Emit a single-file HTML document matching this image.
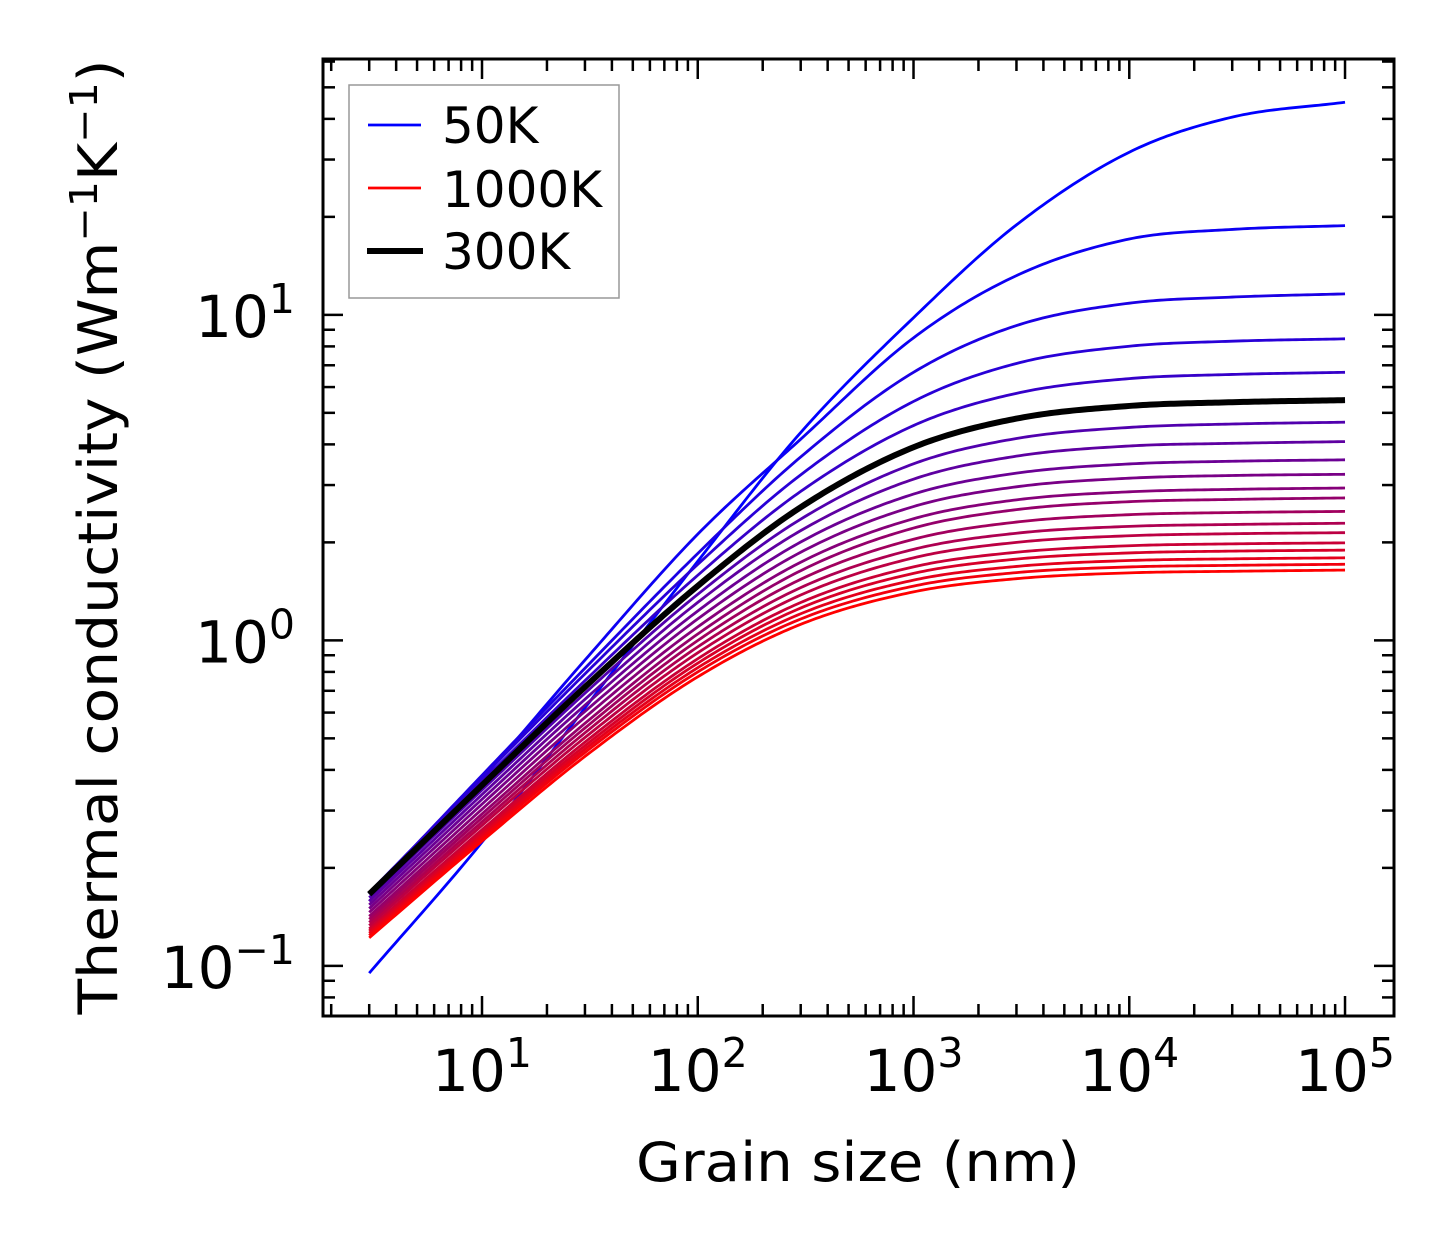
<!DOCTYPE html>
<html><head><meta charset="utf-8"><style>
html,body{margin:0;padding:0;background:#fff;}
svg{display:block;font-family:"DejaVu Sans","Liberation Sans",sans-serif;}
</style></head><body>
<svg id="chart" xmlns="http://www.w3.org/2000/svg" width="1454" height="1254" viewBox="0 0 1454 1254">
<rect width="1454" height="1254" fill="#fff"/>
<g id="series"></g>
<g id="axes"></g>
<text x="858" y="1181" font-size="54" text-anchor="middle" textLength="444" lengthAdjust="spacingAndGlyphs">Grain size (nm)</text>
<text transform="translate(117,537) rotate(-90)" font-size="54" text-anchor="middle" textLength="955" lengthAdjust="spacingAndGlyphs">Thermal conductivity (Wm<tspan dy="-20" font-size="38">−1</tspan><tspan dy="20">K</tspan><tspan dy="-20" font-size="38">−1</tspan><tspan dy="20">)</tspan></text>
<g>
<rect x="349" y="85" width="270" height="213" fill="#fff" stroke="#999" stroke-width="1.5"/>
<line x1="368" y1="125" x2="421" y2="125" stroke="#0000ff" stroke-width="2.8"/>
<text x="442" y="143" font-size="50">50K</text>
<line x1="368" y1="188" x2="421" y2="188" stroke="#ff0000" stroke-width="2.8"/>
<text x="442" y="207" font-size="50">1000K</text>
<line x1="367" y1="251" x2="423" y2="251" stroke="#000" stroke-width="6"/>
<text x="442" y="269" font-size="50">300K</text>
</g>
</svg>
<script>
// grain sizes (nm)
const grainSizes = [3, 10, 30, 100, 300, 1000, 3000, 10000, 30000, 100000];
const temperatures = [50,100,150,200,250,300,350,400,450,500,550,600,650,700,750,800,850,900,950,1000];
const k50 = [0.095,0.24,0.62,1.75,4.35,9.8,18.9,31.6,40.5,45.0];
const k100 = [0.158,0.375,0.87,2.12,4.15,8.5,13.2,17.1,18.3,18.8];
const k150 = [0.166,0.385,0.821,1.849,3.66,6.66,9.27,10.86,11.34,11.6];
const k200 = [0.168,0.379,0.789,1.712,3.225,5.42,7.09,8.01,8.30,8.44];
const k250 = [0.167,0.369,0.752,1.585,2.868,4.57,5.74,6.37,6.56,6.66];
const k300 = [0.166,0.359,0.719,1.47,2.564,3.92,4.80,5.25,5.39,5.47];
const k350 = [0.162,0.347,0.688,1.385,2.357,3.486,4.17,4.51,4.62,4.68];
const k400 = [0.158,0.336,0.659,1.308,2.173,3.128,3.68,3.955,4.03,4.08];
const k450 = [0.154,0.325,0.632,1.231,2.005,2.814,3.263,3.483,3.55,3.586];
const k500 = [0.150,0.314,0.605,1.164,1.865,2.577,2.963,3.149,3.21,3.237];
const k550 = [0.146,0.303,0.580,1.100,1.738,2.364,2.702,2.860,2.91,2.938];
const k600 = [0.142,0.293,0.556,1.046,1.637,2.213,2.521,2.667,2.71,2.739];
const k650 = [0.139,0.285,0.538,0.999,1.54,2.045,2.309,2.433,2.47,2.49];
const k700 = [0.136,0.277,0.520,0.955,1.452,1.904,2.134,2.24,2.27,2.29];
const k750 = [0.133,0.270,0.503,0.9155,1.378,1.7925,2.0,2.096,2.126,2.142];
const k800 = [0.130,0.262,0.487,0.878,1.307,1.682,1.865,1.953,1.979,1.993];
const k850 = [0.128,0.257,0.4746,0.851,1.257,1.606,1.777,1.856,1.88,1.893];
const k900 = [0.126,0.252,0.4633,0.824,1.207,1.531,1.687,1.759,1.78,1.793];
const k950 = [0.124,0.247,0.4525,0.7997,1.163,1.468,1.615,1.681,1.70,1.713];
const k1000 = [0.122,0.2417,0.440,0.7727,1.12,1.409,1.547,1.612,1.63,1.644];
const seriesK = [k50,k100,k150,k200,k250,k300,k350,k400,k450,k500,k550,k600,k650,k700,k750,k800,k850,k900,k950,k1000];
const xTickExps = [1,2,3,4,5];
const yTickExps = [-1,0,1];

const NS = "http://www.w3.org/2000/svg";
const PL = 323, PR = 1394, PT = 59, PB = 1016;
const XMIN = 0.263, XMAX = 5.227, YMIN = -1.154, YMAX = 1.786;
function xs(v){ return PL + (Math.log10(v) - XMIN) / (XMAX - XMIN) * (PR - PL); }
function ys(v){ return PB - (Math.log10(v) - YMIN) / (YMAX - YMIN) * (PB - PT); }

function smoothPath(xsArr, ysArr){
  const n = xsArr.length, X = xsArr.map(Math.log10), Y = ysArr.map(Math.log10);
  const d = [], m = [];
  for (let i=0;i<n-1;i++) d.push((Y[i+1]-Y[i])/(X[i+1]-X[i]));
  m[0]=d[0]; m[n-1]=d[n-2];
  for (let i=1;i<n-1;i++){ m[i] = (d[i-1]*d[i]<=0)?0:(d[i-1]+d[i])/2; }
  for (let i=0;i<n-1;i++){ if (d[i]===0){m[i]=0;m[i+1]=0;continue;} const a=m[i]/d[i], b=m[i+1]/d[i], s=a*a+b*b; if(s>9){const t=3/Math.sqrt(s); m[i]=t*a*d[i]; m[i+1]=t*b*d[i];} }
  let p = "";
  for (let i=0;i<n-1;i++){
    const h = X[i+1]-X[i];
    for (let j=0;j<=30;j++){
      if (i>0 && j===0) continue;
      const t=j/30, t2=t*t, t3=t2*t;
      const y = (2*t3-3*t2+1)*Y[i] + (t3-2*t2+t)*h*m[i] + (-2*t3+3*t2)*Y[i+1] + (t3-t2)*h*m[i+1];
      const x = X[i]+t*h;
      const px = xs(Math.pow(10,x)), py = ys(Math.pow(10,y));
      p += (p?"L":"M") + px.toFixed(2) + "," + py.toFixed(2);
    }
  }
  return p;
}

const gS = document.getElementById("series");
const N = seriesK.length;
seriesK.forEach((ks, i) => {
  const t = i/(N-1);
  const el = document.createElementNS(NS, "path");
  el.setAttribute("d", smoothPath(grainSizes, ks));
  el.setAttribute("fill", "none");
  el.setAttribute("stroke", "rgb(" + Math.round(255*t) + ",0," + Math.round(255*(1-t)) + ")");
  el.setAttribute("stroke-width", "2.8");
  
  
  gS.appendChild(el);
});
const idx300 = temperatures.indexOf(300);
const bl = document.createElementNS(NS, "path");
bl.setAttribute("d", smoothPath(grainSizes, seriesK[idx300]));
bl.setAttribute("fill", "none");
bl.setAttribute("stroke", "#000");
bl.setAttribute("stroke-width", "6");


gS.appendChild(bl);

const gA = document.getElementById("axes");
function addLine(x1,y1,x2,y2,w,name){
  const l = document.createElementNS(NS,"line");
  l.setAttribute("x1",x1); l.setAttribute("y1",y1); l.setAttribute("x2",x2); l.setAttribute("y2",y2);
  l.setAttribute("stroke","#000"); l.setAttribute("stroke-width",w);
  
  
  gA.appendChild(l);
}
for (let e=0;e<=5;e++){
  for (let m=1;m<=9;m++){
    const v = m*Math.pow(10,e), lv = Math.log10(v);
    if (lv < XMIN || lv > XMAX) continue;
    const x = xs(v), len = (m===1)?20:12;
    addLine(x,PB,x,PB-len,2.5,(m===1)?'x-major-tick':'x-minor-tick');
    addLine(x,PT,x,PT+len,2.5,(m===1)?'x-major-tick-top':'x-minor-tick-top');
  }
}
for (let e=-2;e<=1;e++){
  for (let m=1;m<=9;m++){
    const v = m*Math.pow(10,e), lv = Math.log10(v);
    if (lv < YMIN || lv > YMAX) continue;
    const y = ys(v), len = (m===1)?20:12;
    addLine(PL,y,PL+len,y,2.5,(m===1)?'y-major-tick':'y-minor-tick');
    addLine(PR,y,PR-len,y,2.5,(m===1)?'y-major-tick-right':'y-minor-tick-right');
  }
}
const frame = document.createElementNS(NS,"rect");
frame.setAttribute("x",PL); frame.setAttribute("y",PT); frame.setAttribute("width",PR-PL); frame.setAttribute("height",PB-PT);
frame.setAttribute("fill","none"); frame.setAttribute("stroke","#000"); frame.setAttribute("stroke-width","3");


gA.appendChild(frame);

function addLabel(x,y,exp,anchor,name){
  const t = document.createElementNS(NS,"text");
  t.setAttribute("x",x); t.setAttribute("y",y); t.setAttribute("font-size","58");
  t.setAttribute("text-anchor",anchor);
  
  
  t.appendChild(document.createTextNode("10"));
  const s = document.createElementNS(NS,"tspan");
  s.setAttribute("dy","-24"); s.setAttribute("font-size","41");
  s.textContent = String(exp).replace("-","\u2212");
  t.appendChild(s);
  gA.appendChild(t);
}
xTickExps.forEach(e => addLabel(xs(Math.pow(10,e)), 1091, e, "middle", 'x-tick-label'));
yTickExps.forEach(e => addLabel(295, ys(Math.pow(10,e))+22, e, "end", 'y-tick-label'));
</script>
</body></html>
